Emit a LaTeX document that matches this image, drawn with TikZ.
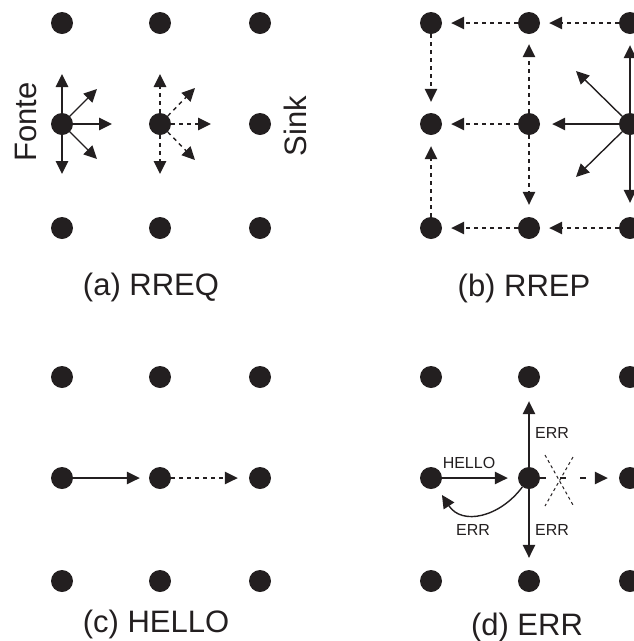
\documentclass[tikz,border=0pt]{standalone}
\usepackage{fontspec}
\setmainfont{Liberation Sans}
\usetikzlibrary{arrows.meta}
\definecolor{ink}{RGB}{35,31,32}

\begin{document}
\begin{tikzpicture}[x=1pt, y=-1pt,
  dot/.style={circle, fill=ink, inner sep=0pt, minimum size=22pt},
  msg/.style={-{Triangle[length=13pt,width=12.5pt]}, line width=1.4pt, color=ink},
  flood/.style={msg, dash pattern=on 4pt off 4pt},
  big/.style={font=\fontsize{31}{37}\selectfont, text=ink, inner sep=0pt},
  small/.style={font=\fontsize{16}{19}\selectfont, text=ink, inner sep=0pt}]

\useasboundingbox (0,0) rectangle (634,641);

% (a) RREQ
\node[dot] (a1) at (62,23) {};
\node[dot] (a2) at (160,23) {};
\node[dot] (a3) at (260,23) {};
\node[dot] (a4) at (62,124) {};
\node[dot] (a5) at (160,124) {};
\node[dot] (a6) at (260,124) {};
\node[dot] (a7) at (62,228) {};
\node[dot] (a8) at (160,228) {};
\node[dot] (a9) at (260,228) {};

\draw[msg] (a4.center) -- ++(0,-50);
\draw[msg] (a4.center) -- ++(35,-35);
\draw[msg] (a4.center) -- ++(50,0);
\draw[msg] (a4.center) -- ++(35,35);
\draw[msg] (a4.center) -- ++(0,50);
\draw[flood] (a5) -- ++(0,-50);
\draw[flood] (a5) -- ++(35,-36);
\draw[flood] (a5) -- ++(51,0);
\draw[flood] (a5) -- ++(35,36);
\draw[flood] (a5) -- ++(0,50);

\node[big, rotate=90, anchor=base] (fonte) at (37,122) {Fonte};
\node[big, rotate=90, anchor=base] (sink) at (306,126) {Sink};
\node[big, anchor=base] (capa) at (151,295) {(a) RREQ};

% (b) RREP
\node[dot] (b1) at (431,23) {};
\node[dot] (b2) at (529,23) {};
\node[dot] (b3) at (630,23) {};
\node[dot] (b4) at (431,124) {};
\node[dot] (b5) at (529,124) {};
\node[dot] (b6) at (630,124) {};
\node[dot] (b7) at (431,228) {};
\node[dot] (b8) at (529,228) {};
\node[dot] (b9) at (630,228) {};

\draw[flood, shorten >=9pt] (b2) -- (b1);
\draw[flood, shorten >=9pt] (b3) -- (b2);
\draw[flood, shorten >=11pt] (b1) -- (b4);
\draw[flood, shorten >=11pt] (b7) -- (b4);
\draw[flood, shorten >=10pt] (b5) -- (b2);
\draw[flood, shorten >=12pt] (b5) -- (b8);
\draw[flood, shorten >=9pt] (b5) -- (b4);
\draw[flood, shorten >=9pt] (b8) -- (b7);
\draw[flood, shorten >=9pt] (b9) -- (b8);
\draw[msg, shorten >=12pt] (b6) -- (b5);
\draw[msg, shorten >=11pt] (b6) -- (b3);
\draw[msg, shorten >=14pt] (b6) -- (b9);
\draw[msg] (b6) -- ++(-54,-53);
\draw[msg] (b6) -- ++(-54,53);

\node[big, anchor=base] (capb) at (524,296) {(b) RREP};

% (c) HELLO
\node[dot] (c1) at (62,377) {};
\node[dot] (c2) at (160,377) {};
\node[dot] (c3) at (260,377) {};
\node[dot] (c4) at (62,478) {};
\node[dot] (c5) at (160,478) {};
\node[dot] (c6) at (260,478) {};
\node[dot] (c7) at (62,581) {};
\node[dot] (c8) at (160,581) {};
\node[dot] (c9) at (260,581) {};

\draw[msg, shorten >=9pt] (c4) -- (c5);
\draw[flood, shorten >=11pt] (c5) -- (c6);

\node[big, anchor=base] (capc) at (156,632) {(c) HELLO};

% (d) ERR
\node[dot] (d1) at (431,377) {};
\node[dot] (d2) at (529,377) {};
\node[dot] (d3) at (630,377) {};
\node[dot] (d4) at (431,478) {};
\node[dot] (d5) at (529,478) {};
\node[dot] (d6) at (630,478) {};
\node[dot] (d7) at (431,581) {};
\node[dot] (d8) at (529,581) {};
\node[dot] (d9) at (630,581) {};

\draw[msg, shorten >=10pt] (d4) -- (d5);
\draw[msg, shorten >=13pt] (d5) -- (d2);
\draw[msg, shorten >=12pt] (d5) -- (d8);
\draw[msg, shorten >=9pt] (d5) .. controls (500,517) and (462,526) .. (d4);
\draw[msg, dash pattern=on 6pt off 14pt, shorten >=11pt] (d5) -- (d6);
% lost link
\draw[ink, line width=1pt, dash pattern=on 3pt off 3pt] (545,455) -- (573,505);
\draw[ink, line width=1pt, dash pattern=on 3pt off 3pt] (573,457) -- (545,506);

\node[small, anchor=base] (hello) at (469,468) {HELLO};
\node[small, anchor=base] (errup) at (552,438) {ERR};
\node[small, anchor=base] (errdown) at (552,535) {ERR};
\node[small, anchor=base] (errback) at (473,535) {ERR};

\node[big, anchor=base] (capd) at (527,635) {(d) ERR};
\end{tikzpicture}
\end{document}
